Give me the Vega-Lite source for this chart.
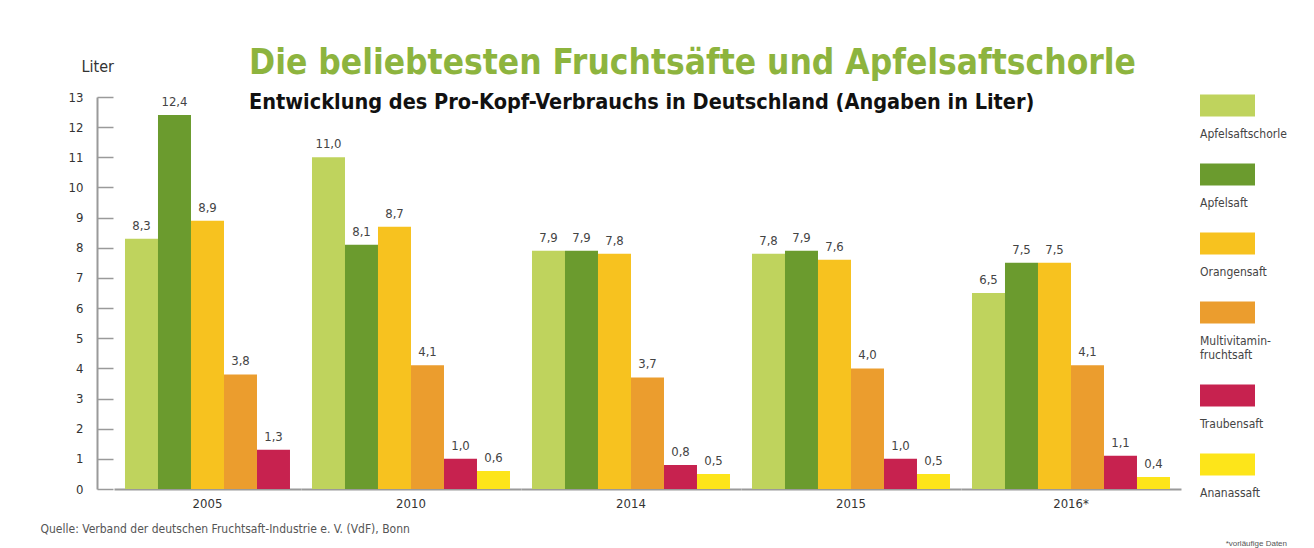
{
  "$schema": "https://vega.github.io/schema/vega-lite/v6.json",
  "background": "white",
  "padding": {"left": 40, "top": 45, "right": 5, "bottom": 5},
  "title": {
    "text": "Die beliebtesten Fruchtsäfte und Apfelsaftschorle",
    "subtitle": "Entwicklung des Pro-Kopf-Verbrauchs in Deutschland (Angaben in Liter)",
    "anchor": "start",
    "dx": 209,
    "offset": -54,
    "font": "Liberation Sans Narrow, DejaVu Sans Condensed, sans-serif",
    "fontSize": 35,
    "fontWeight": "bold",
    "color": "#8db43e",
    "subtitleFont": "Liberation Sans Narrow, DejaVu Sans Condensed, sans-serif",
    "subtitleFontSize": 21.5,
    "subtitleFontWeight": "bold",
    "subtitleColor": "#111111",
    "subtitlePadding": 11
  },
  "data": {
    "values": [
      {"Jahr": "2005", "Sorte": "Apfelsaftschorle", "Liter": 8.3},
      {"Jahr": "2005", "Sorte": "Apfelsaft", "Liter": 12.4},
      {"Jahr": "2005", "Sorte": "Orangensaft", "Liter": 8.9},
      {"Jahr": "2005", "Sorte": "Multivitaminfruchtsaft", "Liter": 3.8},
      {"Jahr": "2005", "Sorte": "Traubensaft", "Liter": 1.3},
      {"Jahr": "2010", "Sorte": "Apfelsaftschorle", "Liter": 11.0},
      {"Jahr": "2010", "Sorte": "Apfelsaft", "Liter": 8.1},
      {"Jahr": "2010", "Sorte": "Orangensaft", "Liter": 8.7},
      {"Jahr": "2010", "Sorte": "Multivitaminfruchtsaft", "Liter": 4.1},
      {"Jahr": "2010", "Sorte": "Traubensaft", "Liter": 1.0},
      {"Jahr": "2010", "Sorte": "Ananassaft", "Liter": 0.6},
      {"Jahr": "2014", "Sorte": "Apfelsaftschorle", "Liter": 7.9},
      {"Jahr": "2014", "Sorte": "Apfelsaft", "Liter": 7.9},
      {"Jahr": "2014", "Sorte": "Orangensaft", "Liter": 7.8},
      {"Jahr": "2014", "Sorte": "Multivitaminfruchtsaft", "Liter": 3.7},
      {"Jahr": "2014", "Sorte": "Traubensaft", "Liter": 0.8},
      {"Jahr": "2014", "Sorte": "Ananassaft", "Liter": 0.5},
      {"Jahr": "2015", "Sorte": "Apfelsaftschorle", "Liter": 7.8},
      {"Jahr": "2015", "Sorte": "Apfelsaft", "Liter": 7.9},
      {"Jahr": "2015", "Sorte": "Orangensaft", "Liter": 7.6},
      {"Jahr": "2015", "Sorte": "Multivitaminfruchtsaft", "Liter": 4.0},
      {"Jahr": "2015", "Sorte": "Traubensaft", "Liter": 1.0},
      {"Jahr": "2015", "Sorte": "Ananassaft", "Liter": 0.5},
      {"Jahr": "2016*", "Sorte": "Apfelsaftschorle", "Liter": 6.5},
      {"Jahr": "2016*", "Sorte": "Apfelsaft", "Liter": 7.5},
      {"Jahr": "2016*", "Sorte": "Orangensaft", "Liter": 7.5},
      {"Jahr": "2016*", "Sorte": "Multivitaminfruchtsaft", "Liter": 4.1},
      {"Jahr": "2016*", "Sorte": "Traubensaft", "Liter": 1.1},
      {"Jahr": "2016*", "Sorte": "Ananassaft", "Liter": 0.4}
    ]
  },
  "facet": {
    "column": {
      "field": "Jahr",
      "type": "ordinal",
      "sort": ["2005", "2010", "2014", "2015", "2016*"],
      "title": "Liter      ",
      "header": {
        "labelOrient": "bottom",
        "labelPadding": 9,
        "labelFontSize": 13,
        "labelColor": "#333333",
        "labelFont": "Liberation Sans Narrow, DejaVu Sans Condensed, sans-serif",
        "titleOrient": "top",
        "titleAnchor": "start",
        "titleAlign": "right",
        "titleFontSize": 16,
        "titleFontWeight": "normal",
        "titleColor": "#333333",
        "titleFont": "Liberation Sans Narrow, DejaVu Sans Condensed, sans-serif",
        "titlePadding": 11
      }
    }
  },
  "spacing": 0,
  "resolve": {"scale": {"x": "independent"}},
  "spec": {
    "width": {"step": 33},
    "height": 392,
    "encoding": {
      "x": {
        "field": "Sorte",
        "type": "nominal",
        "sort": ["Apfelsaftschorle", "Apfelsaft", "Orangensaft", "Multivitaminfruchtsaft", "Traubensaft", "Ananassaft"],
        "scale": {"paddingInner": 0, "paddingOuter": 0.333},
        "axis": {"labels": false, "ticks": false, "title": null, "domainColor": "#9a9a9a", "domainWidth": 2}
      },
      "y": {
        "field": "Liter",
        "type": "quantitative",
        "scale": {"domain": [0, 13], "nice": false},
        "axis": {
          "values": [0, 1, 2, 3, 4, 5, 6, 7, 8, 9, 10, 11, 12, 13],
          "format": "d",
          "offset": 17,
          "grid": false,
          "domainColor": "#9a9a9a",
          "domainWidth": 2,
          "tickColor": "#9a9a9a",
          "tickWidth": 1.5,
          "tickSize": -16,
          "labelPadding": 30,
          "labelFontSize": 13,
          "labelColor": "#333333",
          "labelFont": "Liberation Sans Narrow, DejaVu Sans Condensed, sans-serif",
          "title": "Quelle: Verband der deutschen Fruchtsaft-Industrie e. V. (VdF), Bonn",
          "titleAngle": 0,
          "titleAlign": "left",
          "titleBaseline": "middle",
          "titleX": -57,
          "titleY": 431,
          "titleFontSize": 12,
          "titleFontWeight": "normal",
          "titleColor": "#555555",
          "titleFont": "Liberation Sans Narrow, DejaVu Sans Condensed, sans-serif"
        }
      }
    },
    "layer": [
      {
        "mark": {"type": "bar"},
        "encoding": {
          "color": {
            "field": "Sorte",
            "type": "nominal",
            "scale": {
              "domain": ["Apfelsaftschorle", "Apfelsaft", "Orangensaft", "Multivitaminfruchtsaft", "Traubensaft", "Ananassaft"],
              "range": ["#bfd35d", "#6b9b2e", "#f7c21f", "#eb9d2e", "#c7224f", "#fde51a"]
            },
            "legend": {
              "orient": "none",
              "legendX": 1086,
              "legendY": 9,
              "title": "*vorläufige Daten",
              "titleOrient": "bottom",
              "titleAnchor": "end",
              "titleFontSize": 8,
              "titleFontWeight": "normal",
              "titleColor": "#555555",
              "titlePadding": 41,
              "symbolType": "M-1,-1.42H1V-0.62H-1Z",
              "symbolSize": 3025,
              "symbolStrokeWidth": 0,
              "labelOffset": -55,
              "labelFontSize": 12,
              "labelColor": "#444444",
              "labelFont": "Liberation Sans Narrow, DejaVu Sans Condensed, sans-serif",
              "rowPadding": 23,
              "labelExpr": "datum.label == 'Multivitaminfruchtsaft' ? ['Multivitamin-', 'fruchtsaft'] : datum.label"
            }
          }
        }
      },
      {
        "mark": {"type": "text", "baseline": "bottom", "dy": -6, "fontSize": 13, "color": "#444444", "font": "Liberation Sans Narrow, DejaVu Sans Condensed, sans-serif"},
        "encoding": {"text": {"field": "Liter", "type": "quantitative", "format": ".1f"}}
      }
    ]
  },
  "config": {
    "view": {"stroke": null},
    "locale": {"number": {"decimal": ",", "thousands": ".", "grouping": [3], "currency": ["", " €"]}}
  }
}
